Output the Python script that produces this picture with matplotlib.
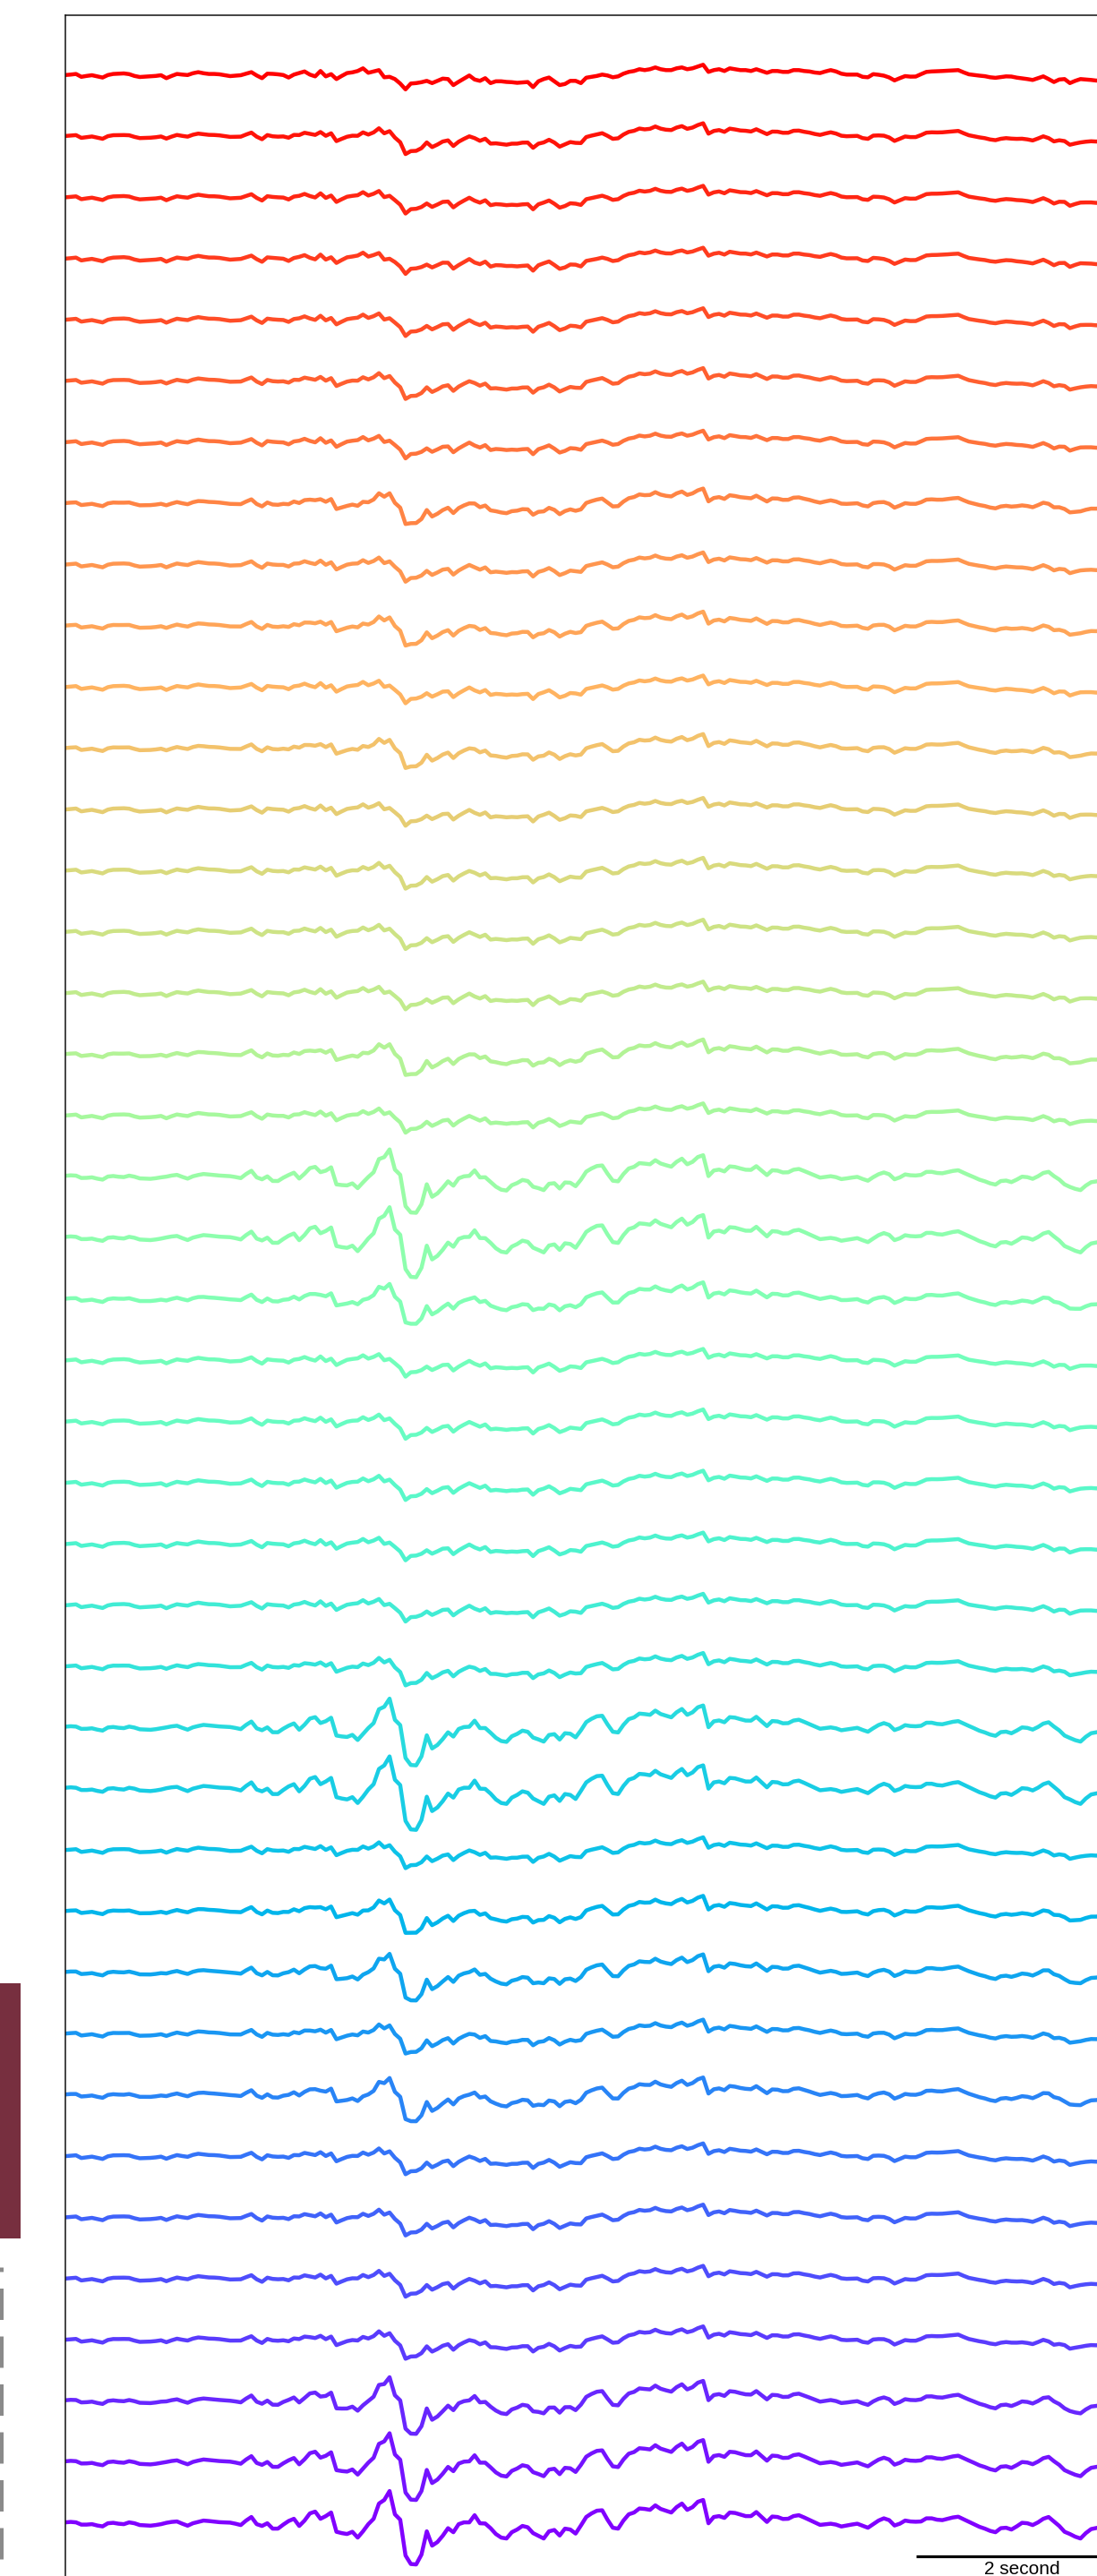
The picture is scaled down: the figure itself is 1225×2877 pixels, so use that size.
import numpy as np
import matplotlib
matplotlib.use("Agg")
import matplotlib.pyplot as plt
from matplotlib.patches import Rectangle
from matplotlib.lines import Line2D

# ---------------- data ----------------
time_s = np.linspace(0.0, 10.0, 201)

# quiet-channel waveform (top trace), amplitude units
quiet_wave = [
    -0.5, 0, 0.7, -2.5, -1.5, -0.7, -2, -3.3, -0.5, 0.7,
    1, 1.3, 0.5, -1.5, -2.7, -2.3, -2, -1.5, -0.7, -4,
    -1.5, 0.7, 0, -0.5, 1.5, 2.7, 1.5, 0.7, 0.7, 0.3,
    -0.7, -1.7, -1.2, -0.7, 1, 2.7, -1, -4, 1, 0.8,
    0.3, -0.5, -3.3, 0, 1.8, 3.5, 0, -2, 4, -2,
    0.5, -5, -1.5, 1.7, 2.5, 4, 7, 2, 3.5, 5,
    -3, -2.5, -5, -10, -16.5, -10, -9.5, -8.5, -7, -9.5,
    -7, -4.5, -5, -11.7, -8, -4.5, -1, -5.5, -7, -4,
    -9.5, -7.5, -7.5, -8.2, -8.5, -9.2, -8.8, -8.3, -14, -7.5,
    -5, -3.3, -7.5, -11.7, -10.5, -7, -7, -9.5, -3.5, -2.5,
    -1.5, 0, -1, -3, -2, 1, 3, 4, 6, 5,
    6, 8, 6, 5, 5, 7, 8, 6, 7, 9,
    11, 3, 5, 6, 4, 7, 6, 5, 5, 4,
    6, 4, 2, 4, 4, 3, 3, 5, 5, 4,
    3.5, 2.3, 1.7, 3.5, 5, 3.5, 1, 0, 0, 0,
    -2.5, -3, 0.5, -0.2, -1.2, -3.2, -6.5, -4, -1.7, -2.3,
    -2.2, 0.5, 3, 3.5, 3.7, 4, 4.3, 4.7, 5, 2.5,
    0.3, -0.5, -1.2, -1.8, -3, -3.6, -2.8, -2, -2.2, -3.4,
    -4.2, -5, -6, -4, -2, -5, -8.3, -5.5, -5, -9.5,
    -7, -5, -5.5, -6, -6.7, -6, -5, -5.5, -4.5, -5,
    -4.5,
]

# strong-event waveform (bottom trace), amplitude units
strong_wave = [
    1, 1.5, 1, -1.5, -1.5, -1, -2.5, -3.5, 0, 0.5,
    -0.5, -1, 1, 0, -2, -2.3, -2.7, -2, -1, 0.5,
    1.5, 2, -0.5, -2.7, 0, 1.5, 3, 2.5, 1.8, 1.2,
    1, 0.7, -0.5, -2, 3, 7, -1, -3, 0, -6,
    -6, -1.5, 2.5, 5, -3, 3, 11, 13, 5, 8,
    12, -9.5, -11, -12, -9.5, -16, -9, -1, 5, 22,
    26, 36, 10, 4, -36, -45.5, -46, -35, -9, -25,
    -21, -14, -5.5, -10, -1, 1, 1, 9, 0, -0.3,
    -5.5, -12, -16, -17, -10, -7, -3, -4.5, -11, -14,
    -17, -9, -7.5, -13.7, -6, -7, -11.5, -2.5, 7, 11,
    14, 14.5, 4, -5, -6, 3, 10, 12, 16.5, 16,
    15, 20, 16, 14, 12, 18, 22, 15, 18, 24,
    26, 0, 7, 8, 6, 12, 11.5, 9.7, 8, 8,
    12.5, 7, 1.5, 7.5, 7, 4.8, 5, 8, 9, 6.5,
    3.7, 1, -1.8, -1.2, -0.5, -1.5, -3.6, -2.5, -1.4, -0.5,
    -2.8, -5, -1, 3, 5.5, 3.5, -2.5, -0.5, 3, 2,
    1.7, 2, 5.5, 5.5, 4, 3.5, 5, 6.5, 7.3, 4.5,
    1.8, -1, -4, -6, -8.5, -10, -5.5, -5, -7, -3.5,
    0.5, 0, -2, 1, 5, 7, 2, -3, -9.5, -12,
    -15, -17, -11, -6.5, -5.3, -4, -3, -5, -2, -3,
    -1,
]

# share of the strong-event waveform in each channel (top -> bottom)
event_weight = [
    0.0, 0.2, 0.1, 0.05, 0.1, 0.2, 0.1, 0.35, 0.15, 0.3,
    0.1, 0.3, 0.1, 0.2, 0.15, 0.1, 0.35, 0.15, 0.85, 0.95,
    0.5, 0.1, 0.15, 0.15, 0.1, 0.1, 0.25, 0.9, 1.0, 0.2,
    0.4, 0.6, 0.3, 0.55, 0.2, 0.2, 0.2, 0.25, 0.75, 0.9,
    1.0,
]

scale_bar_seconds = 2
scale_bar_label = "2 second"

assert len(quiet_wave) == len(time_s) == len(strong_wave)

# ---------------- figure ----------------
W, H = 1225, 2877
fig = plt.figure(figsize=(W / 100, H / 100), dpi=100)
fig.patch.set_facecolor("white")

ax_left_px, ax_right_px = 73, 1260
ax_top_px, ax_bot_px = 17, 2900
ax = fig.add_axes([ax_left_px / W, 1 - ax_bot_px / H,
                   (ax_right_px - ax_left_px) / W, (ax_bot_px - ax_top_px) / H])

spacing = 68.37
first_px = 83.3
quiet = np.asarray(quiet_wave, float)
strong = np.asarray(strong_wave, float)
n = len(event_weight)
cmap = matplotlib.colormaps["rainbow"]
for i, w in enumerate(event_weight):
    trace = (1 - w) * quiet + w * strong
    ax.plot(time_s, trace - i * spacing, color=cmap(1 - i / (n - 1)),
            lw=3.2, solid_joinstyle="round", solid_capstyle="round")

ax.set_xlim(0, 10)
ax.set_ylim(-(ax_bot_px - first_px), first_px - ax_top_px)
ax.set_xticks([])
ax.set_yticks([])
for s in ["right", "bottom"]:
    ax.spines[s].set_visible(False)
for s in ["top", "left"]:
    ax.spines[s].set_linewidth(1.1)
    ax.spines[s].set_color("#111111")

# scale bar
bar_y = -(2854.5 - first_px)
ax.plot([10 - scale_bar_seconds, 10], [bar_y, bar_y], color="black", lw=2.3,
        solid_capstyle="butt", clip_on=False)
ax.text(10 - scale_bar_seconds / 2, -(2860 - first_px), scale_bar_label,
        ha="center", va="top", fontsize=15, family="Liberation Sans")

# fragments of neighbouring panel at the left edge
fig.add_artist(Line2D([1.0 / W, 1.0 / W], [1 - 2532 / H, 0],
                      transform=fig.transFigure, color="#8a8a8a", lw=3.6,
                      linestyle=(6.0, (7.0, 3.7))))
fig.add_artist(Rectangle((0, 1 - 2500 / H), 23 / W, 285 / H,
                         transform=fig.transFigure, facecolor="#772f3f",
                         edgecolor="none"))

fig.savefig("out.png", dpi=100, facecolor="white")
